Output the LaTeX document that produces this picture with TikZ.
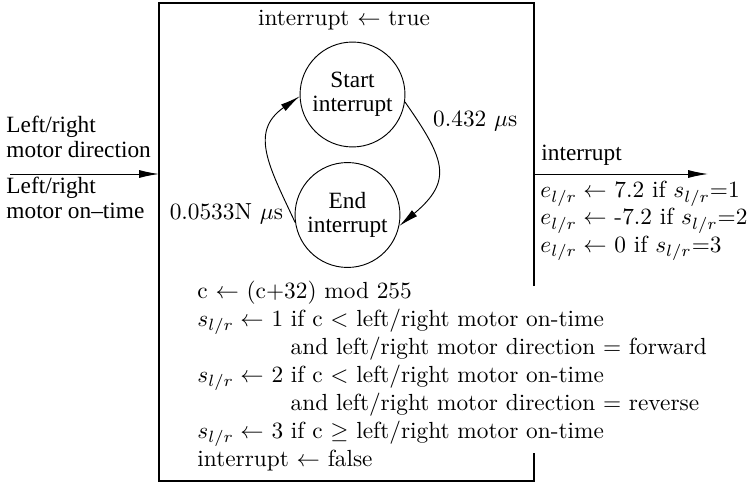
\documentclass[tikz,border=0pt]{standalone}
\usepackage{amsmath}
\usepackage{amssymb}
\usepackage{fontspec}
\newfontfamily\tms[Ligatures=TeX]{Liberation Serif}
\usetikzlibrary{arrows.meta}

\tikzset{
  state/.style={draw, circle, minimum size=45pt, inner sep=0pt, align=center, font=\tms\fontsize{10}{10.3}\selectfont},
  lbl/.style={inner sep=0pt, anchor=base west, align=left},
}

\begin{document}
\begin{tikzpicture}[x=0.01508cm, y=-0.01508cm, >={Latex[length=8.5pt,width=3.4pt]}]
				\useasboundingbox (0,0) rectangle (747,484);
				% Rahmen
				\draw[line width=0.6pt] (534,286) -- (534,3) -- (159,3) -- (159,481) -- (534,481) -- (534,453);

				% Zustaende
				\node[state] (startint) at (352.5,94.5) {Start\\interrupt};
				\node[state] (endint) at (347.5,215) {End\\interrupt};
				\draw[->] (startint.-8) to[out=-55, in=40, looseness=1.45] node[right, pos=0.12, xshift=3pt] {0.432 $\mu$s} (endint.-12);
				\draw[->] (endint.188) to[out=115, in=215, looseness=1.25] node[left, pos=0.05] {0.0533N $\mu$s} (startint.182);

				\node[inner sep=0pt] (settrue) at (344,20) {interrupt $\leftarrow$ true};

				% Eingang
				\coordinate (inl) at (10,174);
				\coordinate (boxl) at (159,174);
				\draw[->] (inl) -- (boxl);
				\node[lbl, font=\tms\fontsize{10}{10.3}\selectfont] (indir) at (6,157) {Left/right\\motor direction};
				\node[lbl, font=\tms\fontsize{10}{10.3}\selectfont] (inon) at (6,218) {Left/right\\motor on--time};

				% Ausgang
				\coordinate (boxr) at (535,174);
				\coordinate (outr) at (708,174);
				\draw[->] (boxr) -- (outr);
				\node[lbl, font=\tms\fontsize{10}{10.3}\selectfont] (outint) at (541,161) {interrupt};
				\node[lbl, font=\fontsize{10}{10.3}\selectfont] (outval) at (540,252)
					{$e_{l/r}\leftarrow$ 7.2 if $s_{l/r}$=1\\
					 $e_{l/r}\leftarrow$ -7.2 if $s_{l/r}$=2\\
					 $e_{l/r}\leftarrow$ 0 if $s_{l/r}$=3};

				% Ablauf
				\node[lbl, font=\fontsize{10}{12}\selectfont] (steps) at (197,466)
					{c $\leftarrow$ (c+32) mod 255\\
					 $s_{l/r}\leftarrow$ 1 if c $<$ left/right motor on-time\\
					 \hspace*{40pt}and left/right motor direction $=$ forward\\
					 $s_{l/r}\leftarrow$ 2 if c $<$ left/right motor on-time\\
					 \hspace*{40pt}and left/right motor direction $=$ reverse\\
					 $s_{l/r}\leftarrow$ 3 if c $\geq$ left/right motor on-time\\
					 interrupt $\leftarrow$ false};
			\end{tikzpicture}
\end{document}
